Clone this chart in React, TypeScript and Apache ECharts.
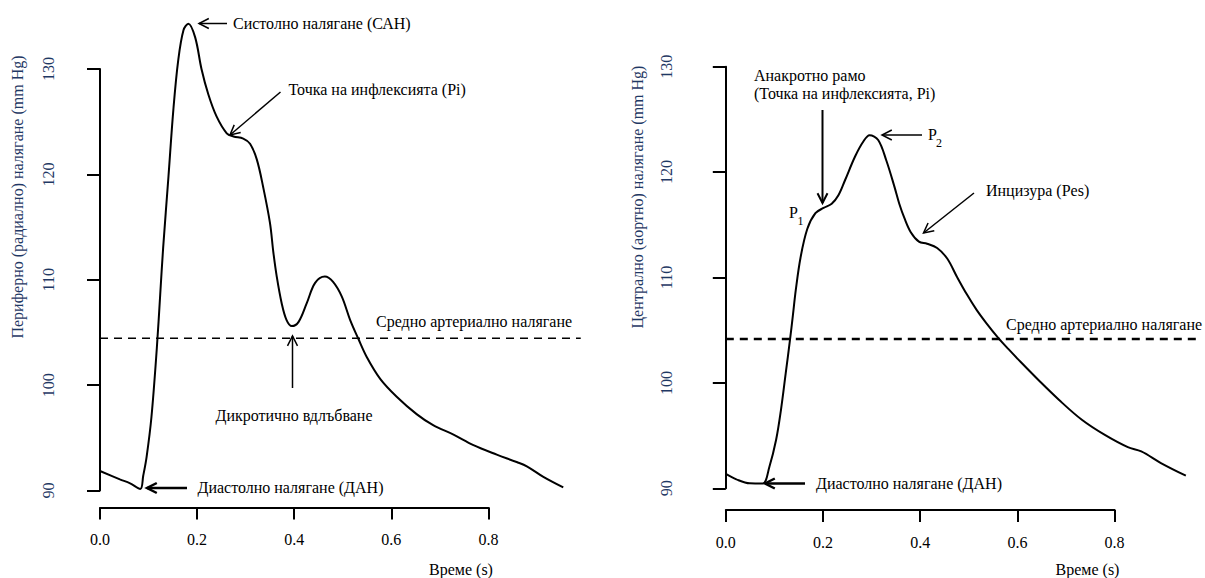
import React, { useEffect, useRef } from "react";
import * as echarts from "echarts";

// ---- data ----
const xTicks = [0, 0.2, 0.4, 0.6, 0.8];
const yTicks = [90, 100, 110, 120, 130];

// Peripheral (radial) pressure waveform
const leftTime = [0, 0.041, 0.062, 0.083, 0.089, 0.096, 0.106, 0.117, 0.124, 0.13, 0.141, 0.151, 0.161, 0.172, 0.182, 0.196, 0.209, 0.223, 0.24, 0.261, 0.275, 0.295, 0.309, 0.323, 0.336, 0.35, 0.357, 0.364, 0.374, 0.384, 0.395, 0.409, 0.426, 0.443, 0.463, 0.48, 0.498, 0.515, 0.532, 0.549, 0.577, 0.611, 0.652, 0.686, 0.728, 0.769, 0.817, 0.858, 0.879, 0.913, 0.954];
const leftPressure = [91.85, 91.06, 90.68, 90.15, 91.4, 93.2, 97.0, 103.5, 108.6, 113.0, 119.8, 126.1, 130.8, 133.7, 134.3, 133.0, 130.0, 127.6, 125.5, 123.9, 123.6, 123.4, 122.9, 121.4, 118.8, 115.4, 112.6, 110.3, 107.8, 106.2, 105.6, 106.0, 107.8, 109.7, 110.3, 109.8, 108.4, 106.2, 104.4, 102.7, 100.6, 98.9, 97.25, 96.2, 95.3, 94.3, 93.4, 92.7, 92.3, 91.3, 90.3];
const leftMean = 104.45;

// Central (aortic) pressure waveform
const rightTime = [0, 0.022, 0.05, 0.077, 0.091, 0.105, 0.115, 0.125, 0.134, 0.14, 0.146, 0.156, 0.17, 0.187, 0.204, 0.221, 0.235, 0.249, 0.27, 0.287, 0.3, 0.318, 0.335, 0.352, 0.362, 0.373, 0.386, 0.403, 0.42, 0.441, 0.462, 0.482, 0.503, 0.523, 0.544, 0.568, 0.59, 0.615, 0.654, 0.695, 0.743, 0.791, 0.839, 0.867, 0.908, 0.96];
const rightPressure = [91.36, 90.85, 90.47, 90.45, 92.05, 94.6, 97.4, 100.9, 104.1, 106.4, 108.8, 111.9, 114.6, 116.1, 116.6, 117.0, 117.8, 119.25, 121.5, 122.9, 123.5, 123.05, 121.1, 118.6, 117.0, 115.6, 114.3, 113.4, 113.2, 112.8, 111.8, 110.1, 108.4, 106.95, 105.65, 104.3, 103.2, 102.0, 100.2, 98.4, 96.5, 95.06, 93.9, 93.5, 92.4, 91.2];
const rightMean = 104.17;
const meanSpan = [0, 0.99];

const FONT = '"Liberation Serif", "Times New Roman", serif';
const NAVY = "#1F3864";

function arrow(x1: number, y1: number, x2: number, y2: number, w: number) {
  // (x1,y1) tail, (x2,y2) tip
  const ang = Math.atan2(y1 - y2, x1 - x2);
  const L = 11;
  const a = (27 * Math.PI) / 180;
  const p1 = [x2 + L * Math.cos(ang + a), y2 + L * Math.sin(ang + a)];
  const p2 = [x2 + L * Math.cos(ang - a), y2 + L * Math.sin(ang - a)];
  return [
    { type: "line", shape: { x1, y1, x2, y2 }, style: { stroke: "#000", lineWidth: w } },
    { type: "polyline", shape: { points: [p1, [x2, y2], p2] }, style: { stroke: "#000", lineWidth: w, fill: null } },
  ];
}

function txt(text: string, x: number, y: number, align = "left", size = 16, color = "#000", rotation = 0) {
  return {
    type: "text",
    x,
    y,
    rotation,
    style: {
      text,
      fill: color,
      font: `${size}px ${FONT}`,
      textAlign: align,
      textVerticalAlign: "middle",
    },
  };
}

function xAxisCfg(gridIndex: number, offset: number) {
  return {
    gridIndex,
    type: "value",
    min: xTicks[0],
    max: xTicks[xTicks.length - 1],
    interval: 0.2,
    position: "bottom",
    offset,
    axisLine: { show: true, lineStyle: { color: "#000", width: 2 } },
    axisTick: { show: true, length: 12, lineStyle: { color: "#000", width: 2 } },
    axisLabel: { margin: 24, fontFamily: FONT, fontSize: 16, color: "#000", formatter: (v: number) => v.toFixed(1) },
    splitLine: { show: false },
  };
}

function yAxisCfg(gridIndex: number, offset: number, margin: number) {
  return {
    gridIndex,
    type: "value",
    min: yTicks[0],
    max: yTicks[yTicks.length - 1],
    interval: 10,
    position: "left",
    offset,
    axisLine: { show: true, lineStyle: { color: "#000", width: 2 } },
    axisTick: { show: true, length: 13, lineStyle: { color: "#000", width: 2 } },
    axisLabel: { margin, rotate: 90, fontFamily: FONT, fontSize: 16, color: NAVY },
    splitLine: { show: false },
  };
}

function hiddenX(gridIndex: number) {
  return { gridIndex, type: "value", min: 0, max: 1, show: false, splitLine: { show: false } };
}
function hiddenY(gridIndex: number) {
  return { gridIndex, type: "value", min: yTicks[0], max: yTicks[yTicks.length - 1], show: false, splitLine: { show: false } };
}

export default function App() {
  const ref = useRef<HTMLDivElement>(null);
  useEffect(() => {
    if (!ref.current) return;
    const chart = echarts.init(ref.current, null, { renderer: "svg" });
    const curve = (t: number[], p: number[]) => t.map((x, i) => [x, p[i]]);
    const leftUnit = 485.6; // px per second, left panel
    const rightUnit = 486; // px per second, right panel
    chart.setOption({
      animation: false,
      backgroundColor: "#fff",
      grid: [
        { left: 100, top: 69, width: leftUnit * 0.8, height: 421.5 },
        { left: 100, top: 69, width: leftUnit, height: 421.5 },
        { left: 725.8, top: 66.7, width: rightUnit * 0.8, height: 421.6 },
        { left: 725.8, top: 66.7, width: rightUnit, height: 421.6 },
      ],
      xAxis: [xAxisCfg(0, 17), hiddenX(1), xAxisCfg(2, 21.7), hiddenX(3)],
      yAxis: [yAxisCfg(0, 19.2, 24), hiddenY(1), yAxisCfg(2, 17.8, 34), hiddenY(3)],
      series: [
        {
          type: "line", xAxisIndex: 1, yAxisIndex: 1, data: curve(leftTime, leftPressure),
          symbol: "none", smooth: 0.35, clip: false, lineStyle: { color: "#000", width: 2 },
        },
        {
          type: "line", xAxisIndex: 1, yAxisIndex: 1, data: meanSpan.map((t) => [t, leftMean]),
          symbol: "none", clip: false, lineStyle: { color: "#000", width: 1.5, type: [8, 6] },
        },
        {
          type: "line", xAxisIndex: 3, yAxisIndex: 3, data: curve(rightTime, rightPressure),
          symbol: "none", smooth: 0.35, clip: false, lineStyle: { color: "#000", width: 2 },
        },
        {
          type: "line", xAxisIndex: 3, yAxisIndex: 3, data: meanSpan.map((t) => [t, rightMean]),
          symbol: "none", clip: false, lineStyle: { color: "#000", width: 2.5, type: [8, 6] },
        },
      ],
      graphic: [
        // left panel
        txt("Периферно (радиално) налягане (mm Hg)", 17, 197, "center", 16, NAVY, Math.PI / 2),
        txt("Време (s)", 461, 569.5, "center"),
        txt("Систолно налягане (САН)", 233, 23),
        ...arrow(227, 23.5, 199, 23.5, 1.5),
        txt("Точка на инфлексията (Pi)", 288.5, 89),
        ...arrow(280.5, 92, 230, 135, 1.5),
        txt("Средно артериално налягане", 376, 321.7),
        ...arrow(292.5, 388, 292.5, 336, 1.5),
        txt("Дикротично вдлъбване", 294, 415.5, "center"),
        txt("Диастолно налягане (ДАН)", 197.5, 487),
        ...arrow(187, 488, 147, 488, 2.5),
        // right panel
        txt("Централно (аортно) налягане (mm Hg)", 637.7, 197, "center", 16, NAVY, Math.PI / 2),
        txt("Време (s)", 1087.5, 569, "center"),
        txt("Анакротно рамо", 754, 75),
        txt("(Точка на инфлексията, Pi)", 754, 93.3),
        ...arrow(822.5, 110, 822.5, 203, 2),
        txt("P", 789, 212),
        txt("1", 797.5, 221, "left", 12),
        txt("P", 928, 134),
        txt("2", 936, 143, "left", 12),
        ...arrow(922, 135, 882, 135, 1.5),
        txt("Инцизура (Pes)", 986, 190),
        ...arrow(974, 193, 923.5, 233, 1.5),
        txt("Средно артериално налягане", 1006, 324.5),
        txt("Диастолно налягане (ДАН)", 816, 483.5),
        ...arrow(805, 483.5, 765, 483.5, 2.5),
      ],
    });
    return () => chart.dispose();
  }, []);
  return (
    <div
      ref={ref}
      style={{ position: "fixed", left: 0, top: 0, width: 1205, height: 578, background: "#fff" }}
    />
  );
}
